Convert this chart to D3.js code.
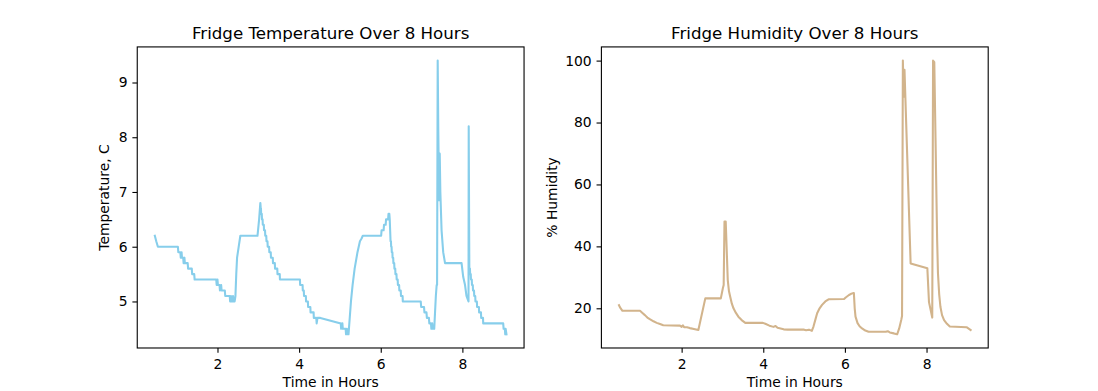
<!DOCTYPE html>
<html>
<head>
<meta charset="utf-8">
<script src="https://cdn.jsdelivr.net/npm/d3@7"></script>
<style>
  html, body { margin: 0; padding: 0; background: #ffffff; }
  svg { display: block; font-family: "DejaVu Sans", sans-serif; }
</style>
</head>
<body>
<svg id="chart" width="1098" height="391"></svg>
<script>
// ---------------- data ----------------
const tempTitle = "Fridge Temperature Over 8 Hours";
const humTitle = "Fridge Humidity Over 8 Hours";
const xLabel = "Time in Hours";
const tempYLabel = "Temperature, C";
const humYLabel = "% Humidity";

const xTicks = [2, 4, 6, 8];
const tempTicks = [5, 6, 7, 8, 9];
const humTicks = [20, 40, 60, 80, 100];

const tempHours = [
  0.465, 0.50, 0.54, 1.03, 1.04, 1.09, 1.10, 1.12, 1.13, 1.16, 1.17, 1.19, 1.20, 1.27, 1.28, 1.37, 1.38, 1.43, 1.44,
  1.97, 1.98, 2.00, 2.01, 2.05, 2.06, 2.09, 2.10, 2.18, 2.19, 2.30, 2.31, 2.33, 2.34, 2.37, 2.38, 2.40, 2.42,
  2.44, 2.46, 2.48, 2.52, 2.56, 2.98, 3.02, 3.05,
  3.06, 3.065, 3.07, 3.085, 3.09, 3.105, 3.11, 3.135, 3.14, 3.165, 3.17, 3.195, 3.20, 3.225,
  3.23, 3.265, 3.27, 3.305, 3.31, 3.355, 3.36, 3.405, 3.41, 3.465, 3.47, 3.525, 3.53, 4.02,
  4.025, 4.085, 4.09, 4.115, 4.12, 4.165, 4.17, 4.215, 4.22, 4.275, 4.28, 4.355, 4.36, 4.42, 4.43, 4.45, 4.50, 4.52,
  5.00, 5.02, 5.03, 5.06, 5.07, 5.14, 5.15, 5.17, 5.19, 5.21, 5.27, 5.31, 5.36, 5.43, 5.49, 5.53, 5.56,
  6.01, 6.02, 6.07, 6.08, 6.12, 6.13, 6.18, 6.19, 6.21, 6.22, 6.23,
  6.24, 6.25, 6.255, 6.265, 6.27, 6.285, 6.29, 6.305, 6.31, 6.33, 6.335, 6.355, 6.36, 6.385, 6.39, 6.415,
  6.42, 6.45, 6.455, 6.49, 6.495, 6.535, 6.54, 6.98, 6.99, 7.06, 7.07, 7.12, 7.13, 7.18, 7.19, 7.23, 7.24, 7.26,
  7.27, 7.31, 7.33, 7.35, 7.37, 7.38, 7.395, 7.41, 7.43, 7.445, 7.46, 7.49, 7.53, 7.575, 7.98, 8.02,
  8.065, 8.10, 8.15, 8.155, 8.17, 8.185, 8.19, 8.205, 8.21, 8.23, 8.235, 8.255, 8.26, 8.285, 8.29, 8.315,
  8.32, 8.355, 8.36, 8.405, 8.41, 8.455, 8.46, 8.505, 8.51, 9.00, 9.01, 9.04, 9.05, 9.06, 9.08
];
const tempValues = [
  6.2, 6.1, 6.0, 6.0, 5.9, 5.9, 5.8, 5.9, 5.8, 5.8, 5.7, 5.8, 5.7, 5.7, 5.6, 5.6, 5.5, 5.5, 5.4,
  5.4, 5.3, 5.4, 5.3, 5.3, 5.2, 5.3, 5.2, 5.2, 5.1, 5.1, 5.0, 5.1, 5.0, 5.0, 5.1, 5.0, 5.0,
  5.1, 5.5, 5.8, 6.0, 6.2, 6.2, 6.5, 6.8,
  6.7, 6.7, 6.6, 6.6, 6.5, 6.5, 6.4, 6.4, 6.3, 6.3, 6.2, 6.2, 6.1, 6.1,
  6.0, 6.0, 5.9, 5.9, 5.8, 5.8, 5.7, 5.7, 5.6, 5.6, 5.5, 5.5, 5.4, 5.4,
  5.3, 5.3, 5.2, 5.2, 5.1, 5.1, 5.0, 5.0, 4.9, 4.9, 4.8, 4.8, 4.7, 4.7, 4.6, 4.7, 4.7, 4.7,
  4.6, 4.6, 4.5, 4.6, 4.5, 4.5, 4.4, 4.5, 4.4, 4.4, 5.0, 5.3, 5.6, 5.9, 6.1, 6.15, 6.2,
  6.2, 6.3, 6.3, 6.4, 6.4, 6.5, 6.5, 6.6, 6.6, 6.5, 6.3,
  6.1, 6.1, 6.0, 6.0, 5.9, 5.9, 5.8, 5.8, 5.7, 5.7, 5.6, 5.6, 5.5, 5.5, 5.4, 5.4,
  5.3, 5.3, 5.2, 5.2, 5.1, 5.1, 5.0, 5.0, 4.9, 4.9, 4.8, 4.8, 4.7, 4.7, 4.6, 4.6, 4.5, 4.6,
  4.5, 4.5, 4.8, 5.1, 5.3, 5.3, 9.4, 8.1, 6.85, 7.7, 7.0, 6.3, 5.9, 5.7, 5.7, 5.45,
  5.3, 5.1, 5.0, 8.2, 5.6, 5.6, 5.5, 5.5, 5.4, 5.4, 5.3, 5.3, 5.2, 5.2, 5.1, 5.1,
  5.0, 5.0, 4.9, 4.9, 4.8, 4.8, 4.7, 4.7, 4.6, 4.6, 4.5, 4.5, 4.4, 4.5, 4.4
];

const humHours = [
  0.465, 0.49, 0.55, 0.98, 1.04, 1.10, 1.16, 1.23, 1.31, 1.39, 1.47, 1.55, 1.96, 2.00, 2.03, 2.06, 2.13,
  2.20, 2.30, 2.41, 2.58, 2.96, 3.01, 3.03, 3.05, 3.08, 3.11, 3.13, 3.16, 3.19, 3.23, 3.27, 3.33, 3.39,
  3.47, 3.56, 3.99, 4.05, 4.15, 4.25, 4.30, 4.35, 4.45, 4.50, 4.60, 5.00, 5.05, 5.12, 5.19, 5.23,
  5.28, 5.32, 5.38, 5.44, 5.52, 5.60, 5.98, 6.02, 6.06, 6.10, 6.14, 6.20, 6.22, 6.24, 6.26, 6.31,
  6.36, 6.42, 6.50, 6.58, 7.00, 7.05, 7.10, 7.20, 7.28, 7.33, 7.38, 7.40, 7.42, 7.44, 7.46, 7.61,
  8.02, 8.06, 8.10, 8.14, 8.16, 8.19, 8.22, 8.24, 8.26, 8.28, 8.31, 8.34, 8.38, 8.43, 8.50, 8.57,
  8.98, 9.08
];
const humValues = [
  21.0, 20.3, 19.2, 19.2, 18.5, 17.8, 17.0, 16.4, 15.8, 15.3, 14.9, 14.5, 14.4, 14.0, 14.5, 13.9, 13.9,
  13.6, 13.3, 13.0, 23.2, 23.2, 26.5, 27.5, 48.0, 48.0, 36.7, 29.1, 25.5, 23.7, 21.5, 20.0, 18.5, 17.3,
  16.2, 15.3, 15.3, 15.0, 14.4, 14.0, 14.3, 13.7, 13.4, 13.2, 13.1, 13.1, 12.9, 13.1, 12.7, 14.1,
  16.5, 18.4, 20.0, 21.1, 22.2, 22.9, 23.0, 23.5, 23.9, 24.3, 24.6, 24.9, 24.9, 20.0, 17.3, 15.2,
  14.2, 13.5, 12.8, 12.4, 12.4, 12.6, 12.2, 11.9, 11.6, 13.5, 16.2, 17.5, 100.0, 88.3, 97.0, 34.5,
  32.9, 22.0, 19.5, 17.0, 100.0, 99.5, 75.0, 58.2, 42.0, 31.3, 24.5, 20.5, 17.8, 16.2, 15.0, 14.1,
  13.9, 13.0
];

// ---------------- layout ----------------
const W = 1098, H = 391;
const axTop = 46.92, axBottom = 347.99;
const axW = 386.8;
const leftX0 = 137.25, rightX0 = 601.4;
const fontSize = 13.89, titleSize = 16.67;
const tickLen = 4.86, tickPad = 4.86;

const svg = d3.select("#chart");
svg.append("rect").attr("width", W).attr("height", H).attr("fill", "#ffffff");

function paddedExtent(arr) {
  const [a, b] = d3.extent(arr);
  const m = (b - a) * 0.05;
  return [a - m, b + m];
}

function panel(x0, hours, values, color, yTicks, title, yLabel, yLabelX) {
  const x = d3.scaleLinear().domain(paddedExtent(hours)).range([x0, x0 + axW]);
  const y = d3.scaleLinear().domain(paddedExtent(values)).range([axBottom, axTop]);
  const g = svg.append("g");

  const pts = hours.map((h, i) => [h, values[i]]);
  const line = d3.line().x(d => x(d[0])).y(d => y(d[1]));
  g.append("path")
    .datum(pts)
    .attr("d", line)
    .attr("fill", "none")
    .attr("stroke", color)
    .attr("stroke-width", 2.08)
    .attr("stroke-linejoin", "round")
    .attr("stroke-linecap", "square");

  // x axis
  const xa = g.append("g").attr("transform", `translate(0,${axBottom})`)
    .call(d3.axisBottom(x).tickValues(xTicks).tickSize(tickLen).tickPadding(tickPad).tickFormat(d3.format("d")));
  xa.select(".domain").remove();
  xa.selectAll(".tick line").attr("stroke", "#000").attr("stroke-width", 1.1);
  xa.selectAll(".tick text").attr("font-family", "DejaVu Sans").attr("font-size", fontSize)
    .attr("fill", "#000").attr("y", 0).attr("dy", 0).attr("transform", "translate(0,21.3)");

  // y axis
  const ya = g.append("g").attr("transform", `translate(${x0},0)`)
    .call(d3.axisLeft(y).tickValues(yTicks).tickSize(tickLen).tickPadding(tickPad).tickFormat(d3.format("d")));
  ya.select(".domain").remove();
  ya.selectAll(".tick line").attr("stroke", "#000").attr("stroke-width", 1.1);
  ya.selectAll(".tick text").attr("font-family", "DejaVu Sans").attr("font-size", fontSize)
    .attr("fill", "#000").attr("dy", "0.32em");

  // frame
  g.append("rect")
    .attr("x", x0).attr("y", axTop).attr("width", axW).attr("height", axBottom - axTop)
    .attr("fill", "none").attr("stroke", "#000").attr("stroke-width", 1.1);

  // title
  g.append("text").attr("x", x0 + axW / 2).attr("y", 38.7)
    .attr("text-anchor", "middle").attr("font-size", titleSize).attr("fill", "#000").text(title);
  // x label
  g.append("text").attr("x", x0 + axW / 2).attr("y", 387.4)
    .attr("text-anchor", "middle").attr("font-size", fontSize).attr("fill", "#000").text(xLabel);
  // y label
  const cy = (axTop + axBottom) / 2;
  g.append("text").attr("transform", `translate(${yLabelX},${cy}) rotate(-90)`)
    .attr("text-anchor", "middle").attr("font-size", fontSize).attr("fill", "#000").text(yLabel);
}

panel(leftX0, tempHours, tempValues, "#87CEEB", tempTicks, tempTitle, tempYLabel, 108.6);
panel(rightX0, humHours, humValues, "#D2B48C", humTicks, humTitle, humYLabel, 557.3);
</script>
</body>
</html>
